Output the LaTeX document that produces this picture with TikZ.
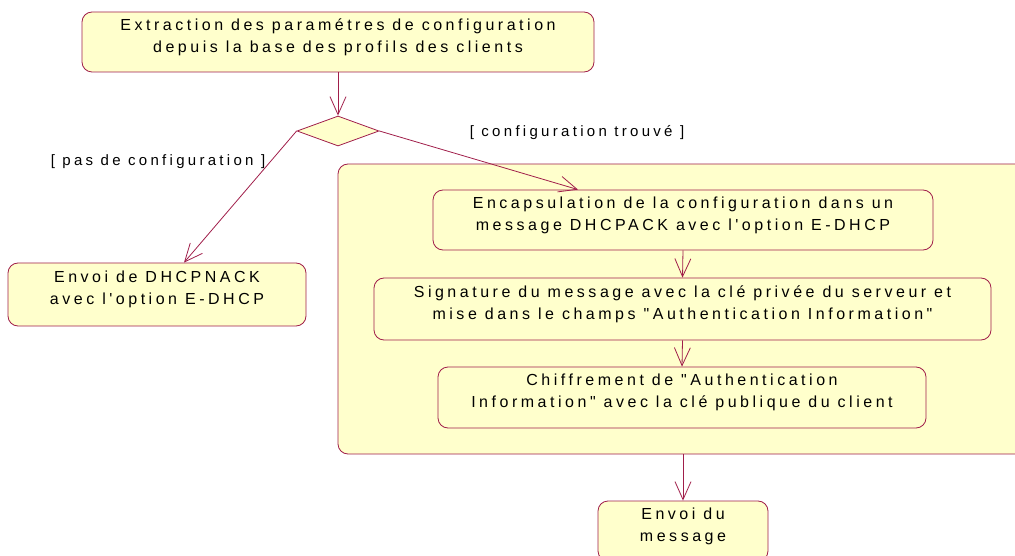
\documentclass[tikz,border=0pt]{standalone}
\usepackage{fontspec}
\newfontfamily\umlfont{Liberation Sans}[LetterSpace=22]
\usetikzlibrary{arrows.meta,shapes.geometric}
\definecolor{umlline}{RGB}{160,30,74}
\definecolor{umlfill}{RGB}{255,255,204}
\begin{document}
\begin{tikzpicture}[x=1pt, y=-1pt,
    font=\umlfont\fontsize{16}{22}\selectfont,
    activity/.style={draw=umlline, fill=umlfill, line width=0.8pt, rounded corners=10pt,
        align=center, text depth=13pt, inner sep=3pt},
    decision/.style={draw=umlline, fill=umlfill, line width=0.8pt, diamond, inner sep=0pt,
        minimum width=82pt, minimum height=30pt},
    guard/.style={inner sep=0pt, font=\umlfont\fontsize{15}{22}\selectfont},
    flow/.style={draw=umlline, line width=0.8pt, -{Straight Barb[length=18pt,width=16pt]}}]

    \useasboundingbox (0,0) rectangle (1015,556);
    \clip (0,0) rectangle (1015,556);

    % zone de la configuration trouvee
    \node[activity, minimum width=702pt, minimum height=290pt] (region) at (689,309) {};

    \node[activity, minimum width=512pt, minimum height=60pt] (extract) at (338,42)
        {Extraction des paramétres de configuration\\depuis la base des profils des clients};
    \node[decision] (choice) at (338,131) {};
    \node[activity, minimum width=298pt, minimum height=63pt] (nack) at (157,294.5)
        {Envoi de DHCPNACK\\avec l'option E-DHCP};

    \node[activity, minimum width=500pt, minimum height=60pt] (encap) at (683,220)
        {Encapsulation de la configuration dans un\\message DHCPACK avec l'option E-DHCP};
    \node[activity, minimum width=617pt, minimum height=62pt] (sign) at (682.5,309)
        {Signature du message avec la clé privée du serveur et\\mise dans le champs "Authentication Information"};
    \node[activity, minimum width=488pt, minimum height=61pt] (cipher) at (682,397.5)
        {Chiffrement de "Authentication\\Information" avec la clé publique du client};
    \node[activity, minimum width=170pt, minimum height=60pt] (send) at (683,531)
        {Envoi du\\message};

    \node[guard] (found) at (577,133) {[ configuration trouvé ]};
    \node[guard] (notfound) at (158,162) {[ pas de configuration ]};

    \draw[flow] (extract.south) -- (choice.north);
    \draw[flow] (choice.west) -- ([xshift=27pt]nack.north);
    \draw[flow] (choice.east) -- ([xshift=-105pt]encap.north);
    \draw[flow] (encap.south) -- (sign.north);
    \draw[flow] (sign.south) -- (cipher.north);
    \draw[flow] (send.north |- region.south) -- (send.north);
\end{tikzpicture}
\end{document}
